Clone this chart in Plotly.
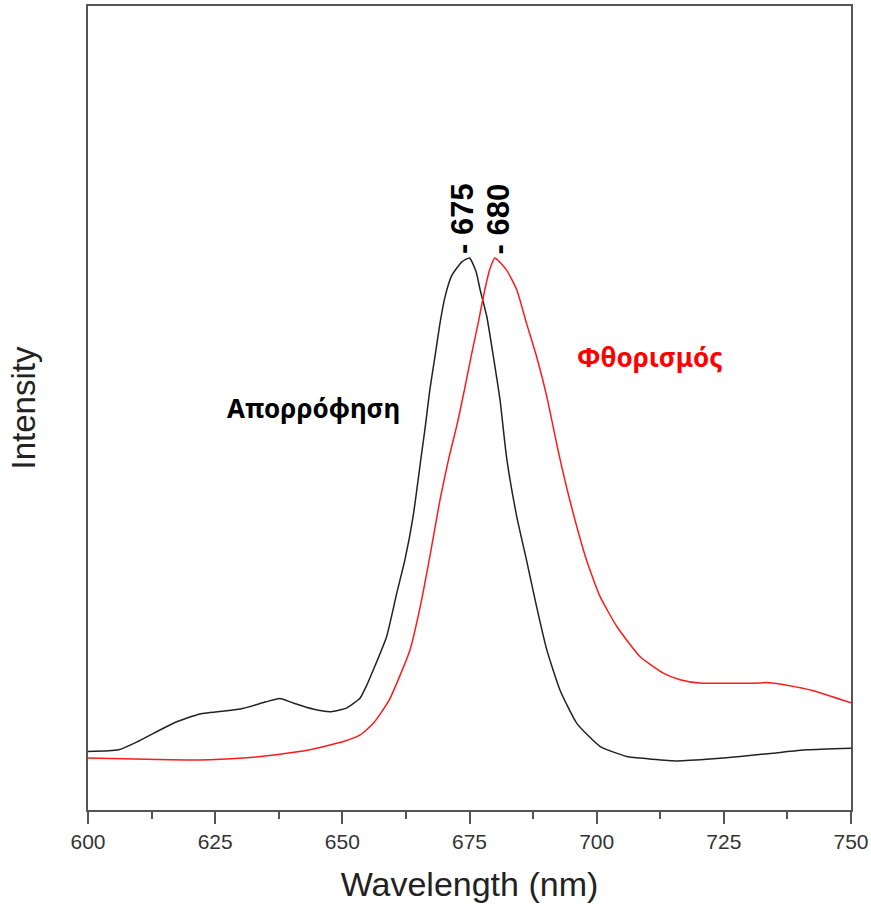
import plotly.graph_objects as go

# Absorption spectrum (wavelength in nm, relative intensity)
abs_wl = [600, 606, 610, 617, 622, 630, 635, 637.7, 640.3, 644.2, 647.6, 650.9,
          653.5, 654.8, 656.1, 658.7, 660.7, 662.3, 663.9, 665.6, 666.3, 667.2,
          668.2, 669.2, 670.2, 671.5, 673.5, 675, 676.3, 677.1, 678.4, 679.7,
          681.0, 682.3, 684.3, 686.2, 688.2, 690.2, 692.8, 696.1, 700.7, 705.9,
          708.5, 715.1, 721.6, 728.2, 734.7, 741.3, 750]
abs_int = [0.106, 0.109, 0.125, 0.158, 0.174, 0.183, 0.196, 0.202, 0.194, 0.183,
           0.178, 0.185, 0.203, 0.226, 0.254, 0.314, 0.393, 0.453, 0.531, 0.647,
           0.694, 0.761, 0.821, 0.882, 0.930, 0.968, 0.993, 1.000, 0.975, 0.942,
           0.894, 0.821, 0.743, 0.638, 0.531, 0.453, 0.368, 0.290, 0.217, 0.157,
           0.115, 0.097, 0.094, 0.089, 0.092, 0.097, 0.103, 0.109, 0.112]

# Fluorescence spectrum
flu_wl = [600, 616, 624, 630.5, 637, 643.6, 650.2, 653.5, 656.1, 659.2, 663.3,
          665.3, 667.2, 669.2, 671.0, 672.6, 674.0, 675.3, 676.7, 678.0, 679.0,
          680.0, 682.3, 684.3, 686.2, 688.2, 690.2, 692.4, 694.7, 698.0, 700.7,
          704.0, 708.5, 713.1, 716.4, 720.3, 732.1, 733.4, 737.4, 742.6, 750]
flu_int = [0.094, 0.091, 0.091, 0.094, 0.100, 0.109, 0.124, 0.136, 0.157, 0.199,
           0.290, 0.368, 0.459, 0.562, 0.640, 0.700, 0.761, 0.821, 0.882, 0.942,
           0.980, 1.000, 0.978, 0.942, 0.882, 0.821, 0.749, 0.652, 0.562, 0.453,
           0.386, 0.332, 0.278, 0.248, 0.236, 0.230, 0.230, 0.231, 0.226, 0.216,
           0.194]

abs_peak = 675
flu_peak = 680
x_ticks = [600, 625, 650, 675, 700, 725, 750]

AXIS = "#555555"

fig = go.Figure()
fig.add_trace(go.Scatter(x=abs_wl, y=abs_int, mode="lines",
                         line=dict(color="#222222", width=1.5, shape="spline",
                                   smoothing=0.5),
                         showlegend=False))
fig.add_trace(go.Scatter(x=flu_wl, y=flu_int, mode="lines",
                         line=dict(color="#ff1a1a", width=1.5, shape="spline",
                                   smoothing=0.5),
                         showlegend=False))

label_font = dict(family="Noto Sans, Open Sans, sans-serif", size=26)
peak_font = dict(family="Liberation Sans, Arial, sans-serif", size=31)

fig.add_annotation(x=644.4, y=0.728, text="<b>Απορρόφηση</b>", showarrow=False,
                   font=dict(color="black", **label_font))
fig.add_annotation(x=710.5, y=0.821, text="<b>Φθορισμός</b>", showarrow=False,
                   font=dict(color="#ff0000", **label_font))
fig.add_annotation(x=abs_peak, y=max(abs_int), text=f"<b>- {abs_peak}</b>",
                   textangle=-90, showarrow=False, yanchor="bottom", xshift=-7,
                   yshift=2, font=dict(color="black", **peak_font))
fig.add_annotation(x=flu_peak, y=max(flu_int), text=f"<b>- {flu_peak}</b>",
                   textangle=-90, showarrow=False, yanchor="bottom", xshift=4,
                   yshift=2, font=dict(color="black", **peak_font))

fig.update_layout(
    width=871, height=906,
    margin=dict(l=88, r=20, t=6, b=96),
    plot_bgcolor="white", paper_bgcolor="white",
    font=dict(family="Liberation Sans, Arial, sans-serif"),
)
fig.update_xaxes(
    range=[600, 750], tickvals=x_ticks, ticktext=[str(t) for t in x_ticks],
    ticks="outside", ticklen=12, tickwidth=1.5, tickcolor=AXIS,
    minor=dict(dtick=12.5, tick0=600, ticks="outside", ticklen=7,
               tickwidth=1.5, tickcolor=AXIS),
    tickfont=dict(size=21, color="#333333"),
    showline=True, linecolor=AXIS, linewidth=2, mirror=True,
    showgrid=False, zeroline=False, automargin=False,
    title=dict(text="Wavelength (nm)", font=dict(size=34, color="#222222"),
               standoff=20),
)
fig.update_yaxes(
    range=[0, 1.4565], showticklabels=False, ticks="",
    showline=True, linecolor=AXIS, linewidth=2, mirror=True,
    showgrid=False, zeroline=False, automargin=False,
    title=dict(text="Intensity", font=dict(size=33, color="#222222"),
               standoff=40),
)

fig.write_html("out.html")
